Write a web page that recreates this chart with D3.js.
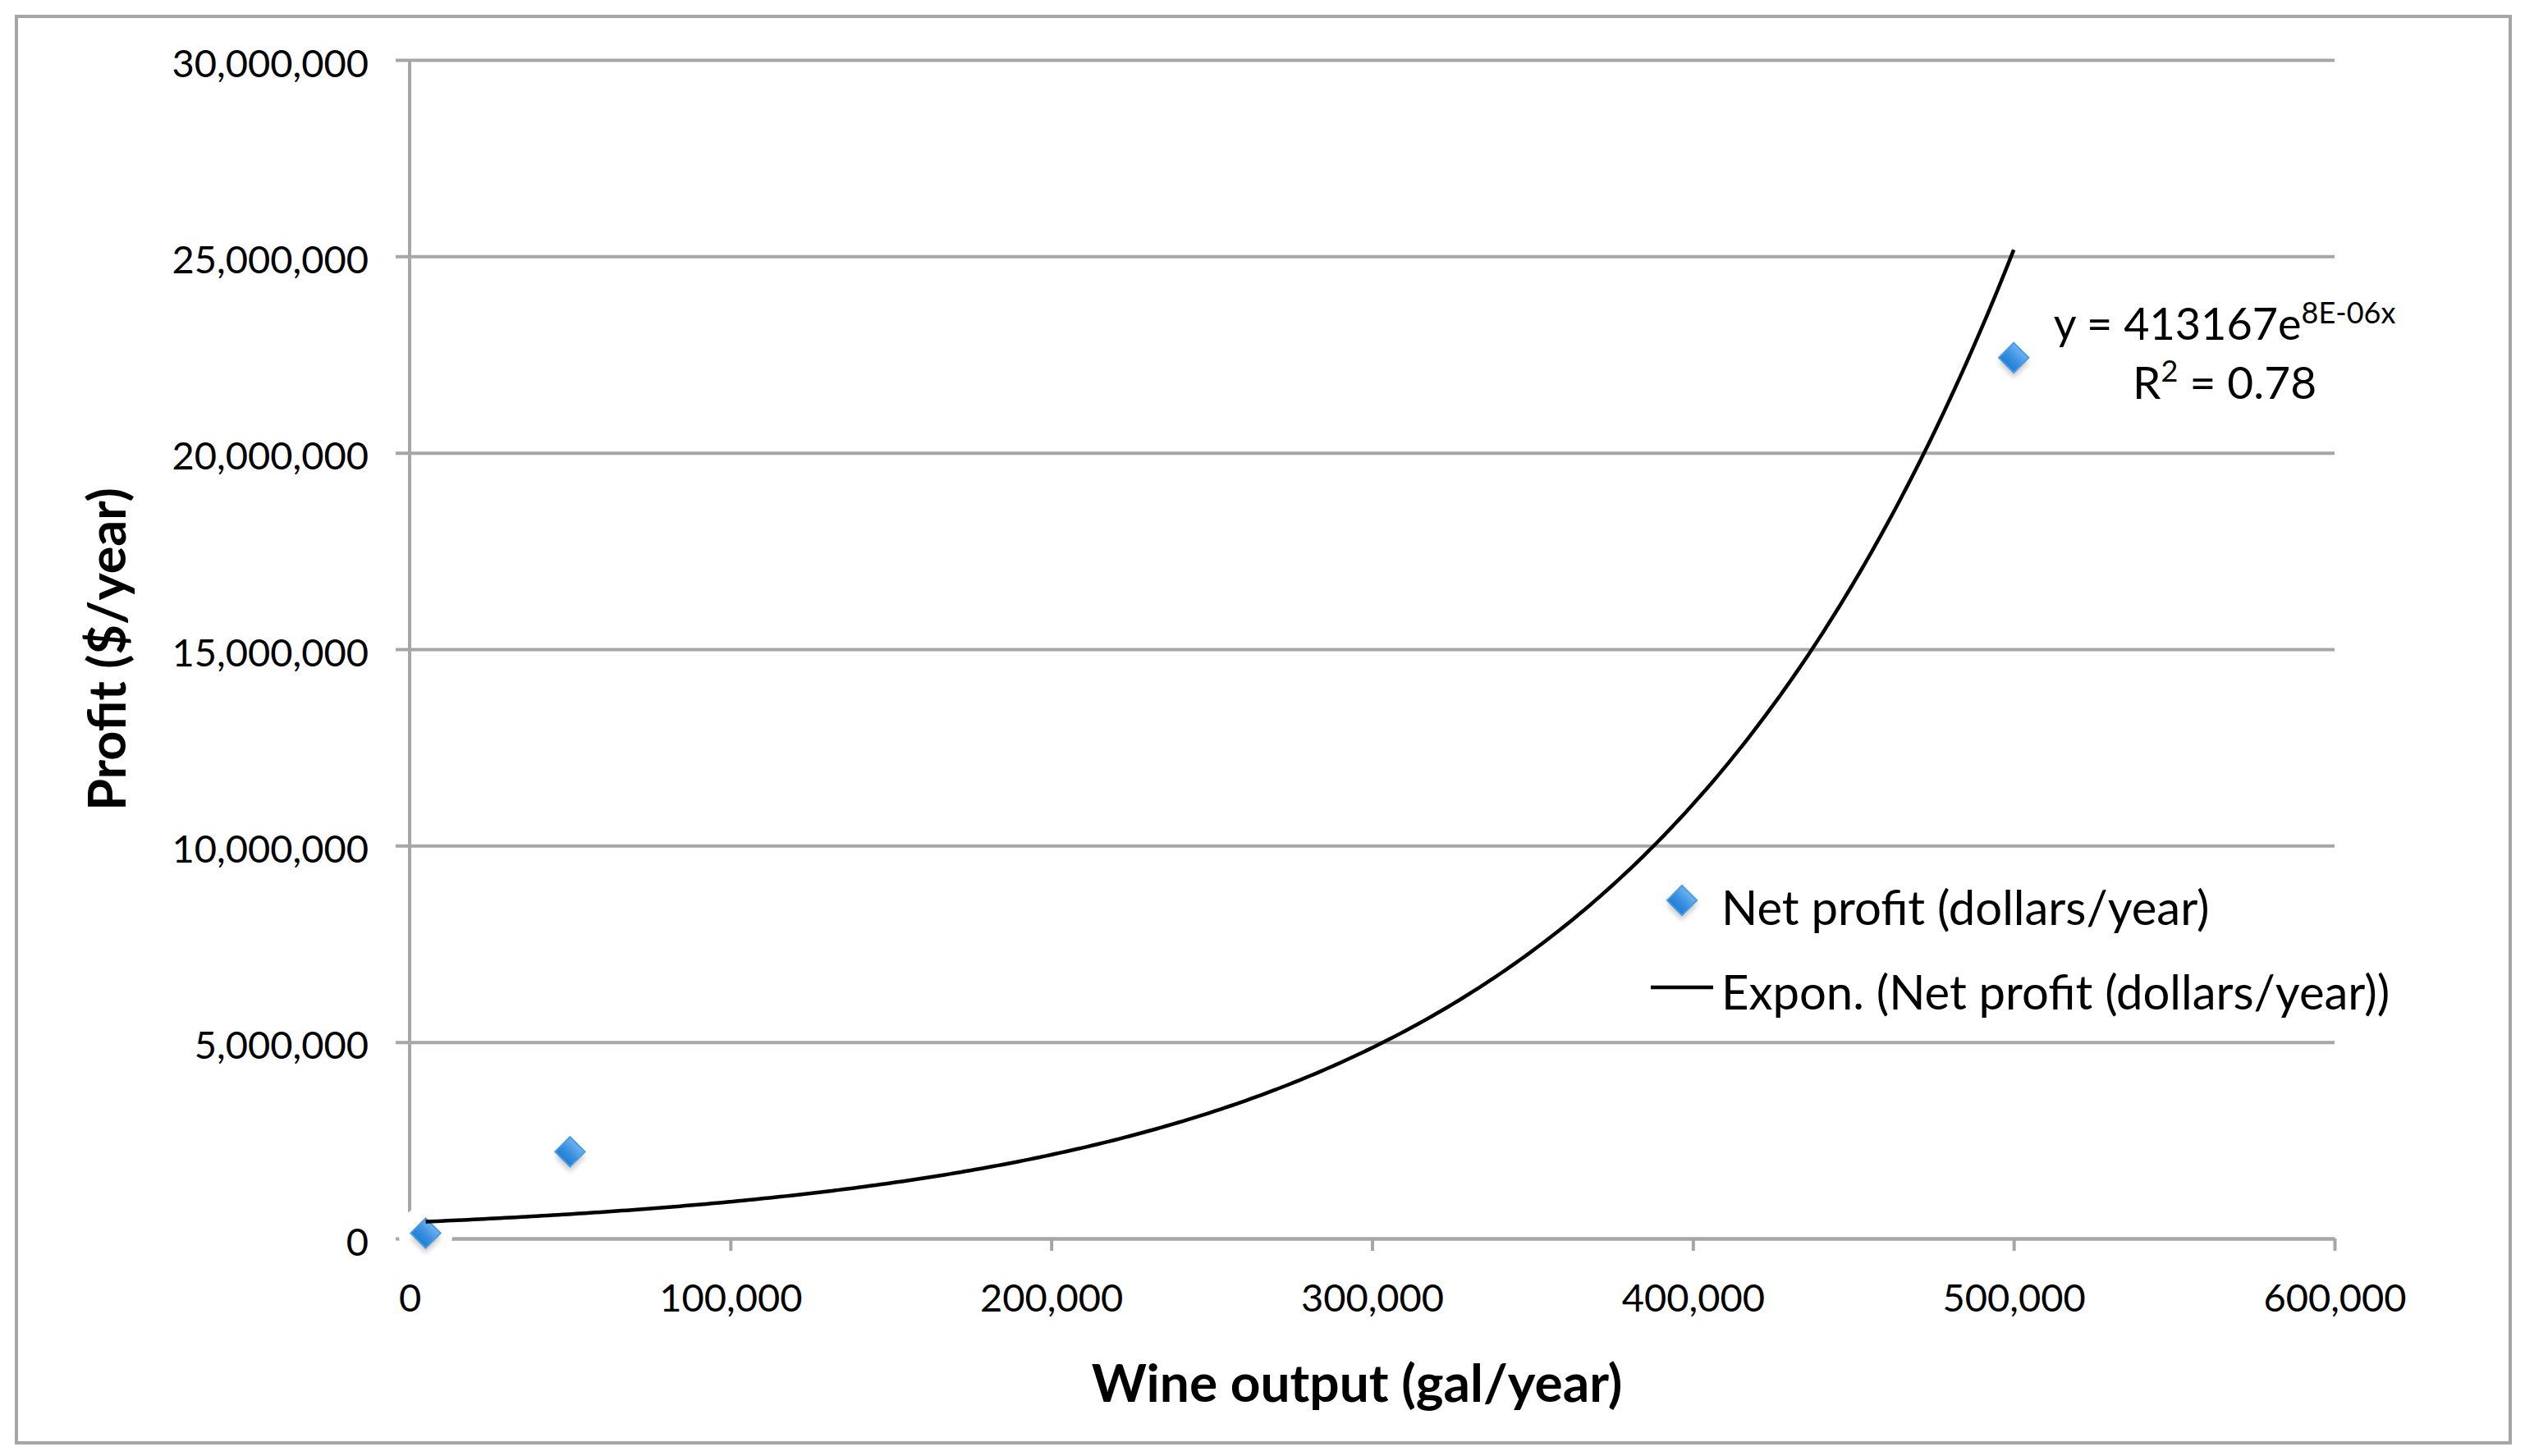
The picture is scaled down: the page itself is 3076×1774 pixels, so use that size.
<!DOCTYPE html>
<html>
<head>
<meta charset="utf-8">
<script src="https://cdn.jsdelivr.net/npm/d3@7/dist/d3.min.js"></script>
<style>
  html, body { margin: 0; padding: 0; background: #ffffff; }
  svg { display: block; }
  text { font-family: Lato, "Open Sans", "Noto Sans", sans-serif; fill: #000; }
</style>
</head>
<body>
<svg id="chart" width="3076" height="1774"></svg>
<script>
// ---- data ----
const wineOutput = [5000, 50000, 500000];          // gal/year
const netProfit  = [135000, 2210000, 22420000];    // dollars/year
const xTicks = [0, 100000, 200000, 300000, 400000, 500000, 600000];
const yTicks = [0, 5000000, 10000000, 15000000, 20000000, 25000000, 30000000];
const seriesName = "Net profit (dollars/year)";
const trendName  = "Expon. (Net profit (dollars/year))";
const equationMain = "y = 413167e";
const equationExp  = "8E-06x";
const r2Value = " = 0.78";
const xTitle = "Wine output (gal/year)";
const yTitle = "Profit ($/year)";

// ---- layout ----
const W = 3076, H = 1774;
const plot = { left: 499, right: 2844, top: 73, bottom: 1509 };
const gridColor = "#a6a6a6";

const svg = d3.select("#chart");
svg.append("rect").attr("x", 0).attr("y", 0).attr("width", W).attr("height", H).attr("fill", "#fff");

// outer chart border
svg.append("rect")
  .attr("x", 20).attr("y", 20).attr("width", 3038).attr("height", 1738)
  .attr("fill", "none").attr("stroke", gridColor).attr("stroke-width", 4);

const x = d3.scaleLinear().domain([0, 600000]).range([plot.left, plot.right]);
const y = d3.scaleLinear().domain([0, 30000000]).range([plot.bottom, plot.top]);
const fmt = d3.format(",");

// defs: gradient, shadow blur
const defs = svg.append("defs");
const grad = defs.append("linearGradient").attr("id", "mk").attr("x1", 0).attr("y1", 0).attr("x2", 0).attr("y2", 1);
grad.append("stop").attr("offset", "0%").attr("stop-color", "#6db3ef");
grad.append("stop").attr("offset", "55%").attr("stop-color", "#3a90e0");
grad.append("stop").attr("offset", "100%").attr("stop-color", "#1f7fd3");
const blur = defs.append("filter").attr("id", "sh").attr("x", "-50%").attr("y", "-50%").attr("width", "200%").attr("height", "200%");
blur.append("feGaussianBlur").attr("stdDeviation", 3);

// y axis with gridlines
const yAxisG = svg.append("g")
  .attr("transform", `translate(${plot.left - 17},0)`)
  .call(d3.axisLeft(y).tickValues(yTicks).tickFormat(fmt)
    .tickSizeInner(-(plot.right - plot.left + 17)).tickSizeOuter(0).tickPadding(33));
yAxisG.select(".domain").remove();
yAxisG.selectAll(".tick line").attr("stroke", gridColor).attr("stroke-width", 4);
yAxisG.selectAll(".tick text")
  .attr("dy", "0.43em")
  .style("font-size", "47px")
  .style("font-family", "Lato, 'Open Sans', sans-serif")
  .attr("fill", "#000");

// vertical axis line
svg.append("line")
  .attr("x1", x(0)).attr("x2", x(0)).attr("y1", y(30000000)).attr("y2", y(0))
  .attr("stroke", gridColor).attr("stroke-width", 4);

// x axis
const xAxisG = svg.append("g")
  .attr("transform", `translate(0,${plot.bottom})`)
  .call(d3.axisBottom(x).tickValues(xTicks).tickFormat(fmt)
    .tickSizeInner(15).tickSizeOuter(0).tickPadding(41));
xAxisG.select(".domain").attr("stroke", gridColor).attr("stroke-width", 4);
xAxisG.selectAll(".tick line").attr("stroke", gridColor).attr("stroke-width", 4);
xAxisG.selectAll(".tick text")
  .style("font-size", "47px")
  .style("font-family", "Lato, 'Open Sans', sans-serif")
  .attr("fill", "#000");

// axis titles
svg.append("text")
  .attr("transform", `translate(153,${(plot.top + plot.bottom) / 2}) rotate(-90)`)
  .attr("text-anchor", "middle")
  .style("font-size", "63px").style("font-weight", "bold")
  .text(yTitle);
svg.append("text")
  .attr("x", 1653).attr("y", 1708)
  .attr("text-anchor", "middle")
  .style("font-size", "64px").style("font-weight", "bold")
  .text(xTitle);

// exponential trend (least squares on ln y, as the spreadsheet does)
const n = wineOutput.length;
const lnY = netProfit.map(v => Math.log(v));
const mx = d3.mean(wineOutput), my = d3.mean(lnY);
let sxy = 0, sxx = 0;
for (let i = 0; i < n; i++) { sxy += (wineOutput[i] - mx) * (lnY[i] - my); sxx += (wineOutput[i] - mx) ** 2; }
const b = sxy / sxx;
const a = Math.exp(my - b * mx);
const xMin = d3.min(wineOutput), xMax = d3.max(wineOutput);
const trendPts = d3.range(0, 301).map(i => {
  const xv = xMin + (xMax - xMin) * i / 300;
  return [xv, a * Math.exp(b * xv)];
});

// marker drawing helper
const diamond = d3.symbol().type(d3.symbolSquare).size(660);
function drawMarker(g, cx, cy, halo) {
  if (halo) g.append("circle").attr("cx", cx).attr("cy", cy).attr("r", 33).attr("fill", "#fff");
  g.append("path").attr("d", diamond())
    .attr("transform", `translate(${cx},${cy + 6}) rotate(45)`)
    .attr("fill", "#000").attr("opacity", 0.22).attr("filter", "url(#sh)");
  g.append("path").attr("d", diamond())
    .attr("transform", `translate(${cx},${cy}) rotate(45)`)
    .attr("fill", "url(#mk)").attr("stroke", "#4a9be4").attr("stroke-width", 2);
}

// points
const pts = svg.append("g");
wineOutput.forEach((xv, i) => drawMarker(pts, x(xv), y(netProfit[i]), true));

// trend line
svg.append("path")
  .datum(trendPts)
  .attr("d", d3.line().x(d => x(d[0])).y(d => y(d[1])))
  .attr("fill", "none").attr("stroke", "#000").attr("stroke-width", 4.5);

// equation label
const eq = svg.append("text").attr("x", 2710).attr("y", 414).attr("text-anchor", "middle").style("font-size", "54px");
eq.append("tspan").text(equationMain);
eq.append("tspan").attr("dy", -20).style("font-size", "36px").text(equationExp);
const r2 = svg.append("text").attr("x", 2710).attr("y", 486).attr("text-anchor", "middle").style("font-size", "55px");
r2.append("tspan").text("R");
r2.append("tspan").attr("dy", -21).style("font-size", "36px").text("2");
r2.append("tspan").attr("dy", 21).text(r2Value);

// legend
const lg = svg.append("g");
drawMarker(lg, 2049, 1097, false);
lg.append("text").attr("x", 2097).attr("y", 1127).style("font-size", "58px").text(seriesName);
lg.append("line").attr("x1", 2011).attr("x2", 2087).attr("y1", 1203).attr("y2", 1203)
  .attr("stroke", "#000").attr("stroke-width", 4.5);
lg.append("text").attr("x", 2097).attr("y", 1230).style("font-size", "58px").text(trendName);
</script>
</body>
</html>
